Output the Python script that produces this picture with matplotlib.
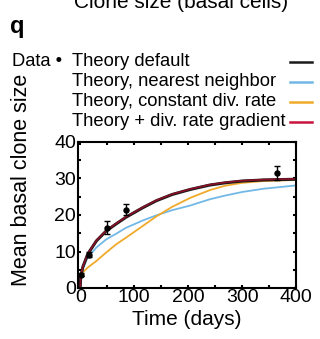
import matplotlib.pyplot as plt
from matplotlib.lines import Line2D
from matplotlib.ticker import MultipleLocator

plt.rcParams["font.family"] = ["Liberation Sans", "DejaVu Sans"]

# measured clone sizes
days = [2, 16, 49, 84, 365]
mean_size = [3.6, 9.1, 16.5, 21.5, 31.5]
size_err = [0.4, 0.7, 1.8, 1.5, 1.9]

# theory curves
t = [0, 1, 5, 14, 30, 48, 67, 85, 116, 141, 170, 204, 240, 268, 300, 340, 400]
theory_default = [0, 3.2, 5.8, 9.3, 12.9, 15.6, 17.6, 19.4, 22.0, 23.9, 25.6, 27.0, 28.2, 28.8, 29.3, 29.6, 29.8]
theory_gradient = [0, 3.2, 5.9, 9.4, 13.0, 15.7, 17.7, 19.5, 22.1, 24.0, 25.7, 27.1, 28.3, 28.9, 29.4, 29.7, 29.9]
theory_nn = [0, 3.0, 5.3, 8.4, 11.1, 13.3, 14.9, 16.5, 18.5, 19.9, 21.3, 22.6, 24.3, 25.3, 26.3, 27.2, 28.1]
theory_const = [0, 3.0, 4.3, 5.6, 7.4, 9.7, 12.0, 13.8, 17.0, 19.6, 22.2, 24.7, 26.8, 28.0, 28.8, 29.3, 29.6]

legend_labels = ["Theory default", "Theory, nearest neighbor",
                 "Theory, constant div. rate", "Theory + div. rate gradient"]
legend_colors = ["#1a1a1a", "#72b8e6", "#f0aa2a", "#c8143c"]

W, H = 320, 339
fig = plt.figure(figsize=(W / 100, H / 100), dpi=100)
ax = fig.add_axes([77.5 / W, (H - 288) / H, (296 - 77.5) / W, (288 - 142) / H])

ax.plot(t, theory_nn, color=legend_colors[1], lw=1.3)
ax.plot(t, theory_const, color=legend_colors[2], lw=1.3)
ax.plot(t, theory_default, color=legend_colors[0], lw=2.2)
ax.plot(t, theory_gradient, color="#8a1028", lw=1.2)
ax.errorbar(days, mean_size, yerr=size_err, fmt="o", color="black",
            ms=3.6, capsize=2.2, elinewidth=1.0, capthick=1.0, zorder=5)

ax.set_xlim(-5, 400)
ax.set_ylim(0, 40)
ax.xaxis.set_major_locator(MultipleLocator(100))
ax.xaxis.set_minor_locator(MultipleLocator(50))
ax.yaxis.set_major_locator(MultipleLocator(10))
ax.yaxis.set_minor_locator(MultipleLocator(5))
ax.tick_params(which="both", direction="in", top=True, right=True,
               length=2.5, width=1.5, labelsize=14, pad=1)
for s in ax.spines.values():
    s.set_linewidth(1.5)
ax.set_xlabel("Time (days)", fontsize=15, labelpad=2.5)

fig.text(22 / W, 1 - 180 / H, "Mean basal clone size", rotation=90,
         fontsize=15.5, ha="center", va="center")
fig.text(181 / W, 1 - 2 / H, "Clone size (basal cells)", fontsize=15,
         ha="center", va="center")
fig.text(10 / W, 1 - 27 / H, "q", fontsize=17, fontweight="bold",
         ha="left", va="center")

fig.text(12 / W, 1 - 62 / H, "Data \u2022", fontsize=13.2, ha="left", va="center")
rows = [62, 82, 102, 122]
for lab, col, y in zip(legend_labels, legend_colors, rows):
    fig.text(72 / W, 1 - y / H, lab, fontsize=13.2, ha="left", va="center")
    fig.add_artist(Line2D([290 / W, 312 / W], [1 - y / H, 1 - y / H],
                          color=col, lw=1.8))

fig.savefig("out.png", dpi=100)
